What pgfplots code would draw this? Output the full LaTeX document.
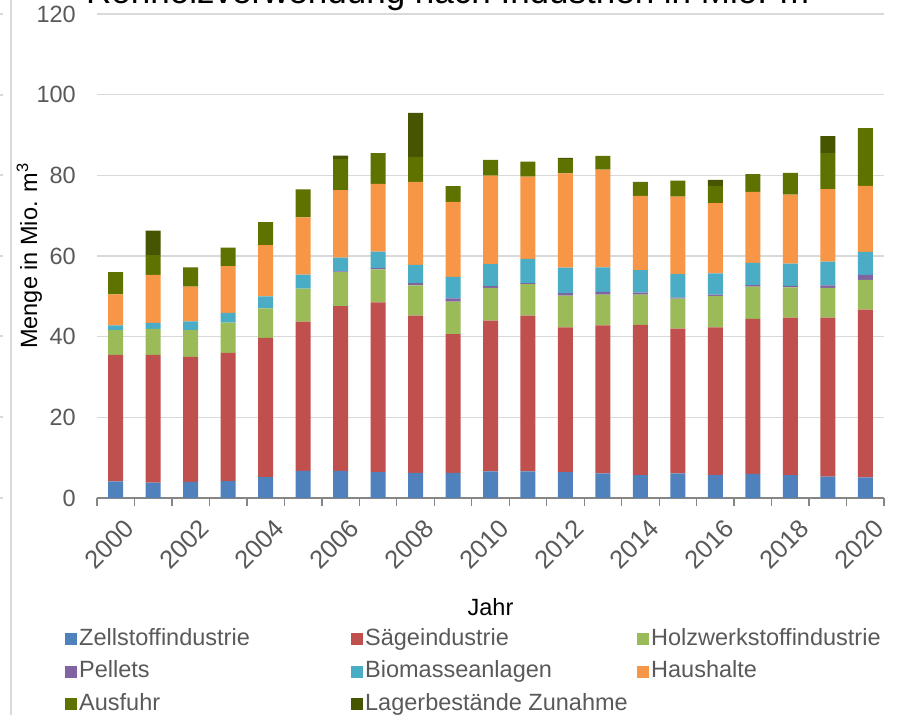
\documentclass[border=0pt]{standalone}
\usepackage{fontspec}
\setmainfont{Liberation Sans}
\usepackage{pgfplots}
\usepackage{pgfplotstable}
\pgfplotsset{compat=1.18}

\definecolor{cZ}{HTML}{4F81BD}
\definecolor{cS}{HTML}{C0504D}
\definecolor{cH}{HTML}{9BBB59}
\definecolor{cP}{HTML}{8064A2}
\definecolor{cB}{HTML}{4BACC6}
\definecolor{cHh}{HTML}{F79646}
\definecolor{cA}{HTML}{5E7200}
\definecolor{cL}{HTML}{465500}
\definecolor{gridgray}{HTML}{D9D9D9}
\definecolor{axisgray}{HTML}{868686}
\definecolor{txtgray}{HTML}{595959}

\pgfplotstableread{
x Z S H P B Hh A L
0 4.1 31.4 6.1 0 1.2 7.7 5.5 0
1 3.8 31.7 6.4 0 1.5 11.9 4.9 6.1
2 4.0 31.0 6.6 0 2.2 8.6 4.8 0
3 4.2 31.8 7.5 0 2.4 11.6 4.6 0
4 5.2 34.5 7.3 0 3.0 12.7 5.7 0
5 6.7 37.0 8.2 0 3.5 14.2 6.9 0
6 6.7 40.9 8.4 0.2 3.4 16.7 7.7 0.9
7 6.4 42.1 8.2 0.3 4.1 16.8 7.6 0
8 6.2 39.0 7.5 0.6 4.5 20.6 6.2 10.9
9 6.2 34.4 8.1 0.8 5.3 18.6 3.9 0
10 6.6 37.4 8.1 0.4 5.5 21.9 3.9 0
11 6.6 38.6 7.8 0.3 6.0 20.4 3.7 0
12 6.4 35.9 7.9 0.6 6.3 23.4 3.5 0.3
13 6.1 36.7 7.6 0.7 6.1 24.2 3.4 0
14 5.7 37.2 7.5 0.5 5.6 18.4 3.5 0
15 6.1 35.9 7.4 0.3 5.8 19.2 4.0 0
16 5.7 36.6 7.8 0.3 5.3 17.4 4.3 1.5
17 6.0 38.4 8.0 0.4 5.5 17.6 4.4 0
18 5.7 39.0 7.5 0.4 5.5 17.1 5.4 0
19 5.3 39.4 7.4 0.6 5.9 18.0 8.9 4.2
20 5.1 41.6 7.4 1.2 5.7 16.4 14.3 0
}\datatable

\newcommand{\lbox}[1]{\makebox[270bp][l]{#1}}

\begin{document}
\begin{tikzpicture}[x=1bp,y=1bp]
\useasboundingbox (0,0) rectangle (897,715);
% decorative frame remnants at the left edge
\draw[gridgray, line width=1.5bp] (11,0) -- (11,715);
\foreach \yy in {701,620,540,459,379,298,217} {\draw[gridgray, line width=1.3bp] (0,\yy) -- (3,\yy);}
% cut title
\node[anchor=base west, inner sep=0pt, font=\fontsize{35bp}{40bp}\selectfont] at (86,711) {Rohholzverwendung nach Industrien in Mio. m\textsuperscript{3}};
\begin{axis}[
  at={(97bp,217bp)}, anchor=south west,
  width=787bp, height=484bp, scale only axis,
  xmin=-0.5, xmax=20.5, ymin=0, ymax=120,
  ybar stacked, bar width=0.4,
  axis x line*=bottom, axis y line*=left,
  y axis line style={draw=none},
  x axis line style={color=axisgray, line width=1.3bp},
  ytick={0,20,...,120},
  ytick style={draw=none},
  ymajorgrids, grid style={color=gridgray, line width=1.3bp},
  xtick={0,2,...,20},
  xticklabels={2000,2002,2004,2006,2008,2010,2012,2014,2016,2018,2020},
  minor xtick={-0.5,0.5,...,20.5},
  major x tick style={draw=none},
  minor x tick style={color=axisgray, line width=1.3bp},
  tick align=outside,
  major tick length=0bp, minor tick length=8bp,
  /pgf/number format/assume math mode=true,
  ticklabel style={font=\fontsize{23.5bp}{28bp}\selectfont, text=txtgray},
  yticklabel style={inner sep=0pt, xshift=-21bp},
  xticklabel style={inner sep=0pt, anchor=east, xshift=14bp, rotate=45, font=\fontsize{25.5bp}{30bp}\selectfont},
  xticklabel shift=26bp,
  xlabel={Jahr}, ylabel={Menge in Mio. m\textsuperscript{3}},
  every axis x label/.style={at={(axis description cs:0.5,-0.2252)}, anchor=center, font=\fontsize{23.5bp}{28bp}\selectfont},
  every axis y label/.style={at={(axis description cs:-0.086,0.5)}, anchor=center, rotate=90, font=\fontsize{23.5bp}{28bp}\selectfont},
  legend columns=3,
  legend cell align=left,
  legend style={at={(-0.0407,-0.2650)}, anchor=north west, draw=none, fill=none,
    inner sep=0pt, column sep=0pt, row sep=6.5bp,
    nodes={inner sep=2bp, text height=17bp, text depth=5bp},
    font=\fontsize{23.5bp}{28bp}\selectfont, text=txtgray},
  legend image code/.code={\path[#1, draw=none] (0bp,-6bp) rectangle (12bp,6bp);},
]
\addplot[fill=cZ, draw=none] table[x=x,y=Z]{\datatable};
\addlegendentry{\lbox{Zellstoffindustrie}}
\addplot[fill=cS, draw=none] table[x=x,y=S]{\datatable};
\addlegendentry{\lbox{Sägeindustrie}}
\addplot[fill=cH, draw=none] table[x=x,y=H]{\datatable};
\addlegendentry{\lbox{Holzwerkstoffindustrie}}
\addplot[fill=cP, draw=none] table[x=x,y=P]{\datatable};
\addlegendentry{\lbox{Pellets}}
\addplot[fill=cB, draw=none] table[x=x,y=B]{\datatable};
\addlegendentry{\lbox{Biomasseanlagen}}
\addplot[fill=cHh, draw=none] table[x=x,y=Hh]{\datatable};
\addlegendentry{\lbox{Haushalte}}
\addplot[fill=cA, draw=none] table[x=x,y=A]{\datatable};
\addlegendentry{\lbox{Ausfuhr}}
\addplot[fill=cL, draw=none] table[x=x,y=L]{\datatable};
\addlegendentry{\lbox{Lagerbestände Zunahme}}
\end{axis}
\end{tikzpicture}
\end{document}
